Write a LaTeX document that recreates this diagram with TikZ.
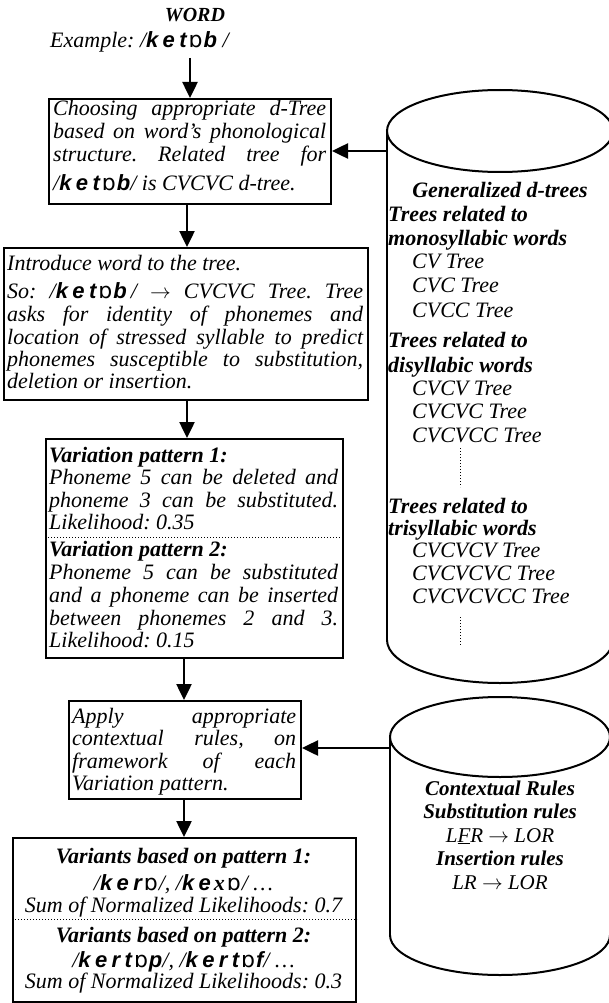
\documentclass[tikz,border=0pt]{standalone}
\usepackage{fontspec}
\setmainfont{Liberation Serif}
\newfontfamily\ipaf{Liberation Sans}[LetterSpace=20]
\newfontfamily\ipao{DejaVu Sans}
\usetikzlibrary{arrows.meta}
\newcommand\ipa[1]{{\ipaf\bfseries\itshape #1}}
\newcommand\oo{{\ipao\mdseries\upshape\kern2pt ɒ\kern1pt}}
\newcommand\xx{{\kern3pt\bfseries\itshape x}}
\newcommand\JL[5]{\node[lt] (#1) at (#2,#3) {\makebox[#4pt][s]{#5}};}
\newcommand\PL[4]{\node[lt] (#1) at (#2,#3) {#4};}
\newcommand\CL[4]{\node[ct] (#1) at (#2,#3) {#4};}
\frenchspacing
\begin{document}
\begin{tikzpicture}[x=1pt,y=-1pt,
  txt/.style={inner sep=0pt, font=\fontsize{22pt}{22.5pt}\selectfont\itshape\frenchspacing},
  lt/.style={txt, anchor=base west},
  ct/.style={txt, anchor=base},
  small/.style={font=\fontsize{21pt}{22pt}\selectfont\itshape},
  box/.style={draw, line width=2pt, inner sep=0pt, anchor=north west},
  arr/.style={line width=2.5pt, -{Triangle[length=16pt,width=15pt]}},
  cyl/.style={line width=2pt},
  sep/.style={dotted, line width=1pt}]
\useasboundingbox (0,0) rectangle (608,1003);

% title
\node[ct, font=\fontsize{20pt}{22pt}\selectfont\bfseries\itshape] (word) at (195,22) {WORD};
\PL{ex}{50}{48}{Example: /\ipa{ket}\oo\ipa{b} /}

% boxes
\node[box, minimum width=282pt, minimum height=105pt] (b1) at (48,98) {};
\node[box, minimum width=364pt, minimum height=152pt] (b2) at (3,247) {};
\node[box, minimum width=297pt, minimum height=219pt] (b3) at (45,438) {};
\node[box, minimum width=232pt, minimum height=98pt] (b4) at (68,700) {};
\node[box, minimum width=343pt, minimum height=164pt] (b5) at (12,837) {};

% box 1
\JL{b1a}{53}{116}{273}{Choosing appropriate d-Tree}
\JL{b1b}{53}{139}{273}{based on word's phonological}
\JL{b1c}{53}{162}{273}{structure. Related tree for}
\PL{b1d}{53}{190}{/\ipa{ket}\oo\ipa{b}/ is CVCVC d-tree.}

% box 2
\PL{b2a}{7}{270}{Introduce word to the tree.}
\JL{b2b}{7}{298}{356}{So: /\ipa{ket}\oo\ipa{b}\kern4pt/ $\rightarrow$ CVCVC Tree. Tree}
\JL{b2c}{7}{321}{356}{asks for identity of phonemes and}
\JL{b2d}{7}{344}{356}{location of stressed syllable to predict}
\JL{b2e}{7}{366}{356}{phonemes susceptible to substitution,}
\PL{b2f}{7}{388}{deletion or insertion.}

% box 3
\PL{b3a}{49}{462}{\textbf{Variation pattern 1:}}
\JL{b3b}{49}{484}{289}{Phoneme 5 can be deleted and}
\JL{b3c}{49}{507}{289}{phoneme 3 can be substituted.}
\PL{b3d}{49}{529}{Likelihood: 0.35}
\PL{b3e}{49}{556}{\textbf{Variation pattern 2:}}
\JL{b3f}{49}{579}{289}{Phoneme 5 can be substituted}
\JL{b3g}{49}{602}{289}{and a phoneme can be inserted}
\JL{b3h}{49}{625}{289}{between phonemes 2 and 3.}
\PL{b3i}{49}{647}{Likelihood: 0.15}
\draw[sep] (b3.west |- 0,537) -- (b3.east |- 0,537);

% box 4
\JL{b4a}{72}{723}{224}{Apply appropriate}
\JL{b4b}{72}{745}{224}{contextual rules, on}
\JL{b4c}{72}{768}{224}{framework of each}
\PL{b4d}{72}{790}{Variation pattern.}

% box 5
\CL{b5a}{183.5}{863}{\textbf{Variants based on pattern 1:}}
\CL{b5b}{183.5}{890}{/\ipa{ker}\oo/, /\ipa{ke}\xx\oo/ \ldots}
\CL{b5c}{183.5}{912}{Sum of Normalized Likelihoods: 0.7}
\CL{b5d}{183.5}{942}{\textbf{Variants based on pattern 2:}}
\CL{b5e}{183.5}{967}{/\ipa{kert}\oo\ipa{p}/, /\ipa{kert}\oo\ipa{f}/ \ldots}
\CL{b5f}{183.5}{988}{Sum of Normalized Likelihoods: 0.3}
\draw[sep] (b5.west |- 0,919) -- (b5.east |- 0,919);

% cylinder 1
\draw[cyl] (500,131) ellipse [x radius=113pt, y radius=41pt];
\draw[cyl] (387,131) -- (387,640);
\draw[cyl] (613,131) -- (613,640);
\begin{scope}
  \clip (380,640) rectangle (620,700);
  \draw[cyl] (500,640) ellipse [x radius=113pt, y radius=43pt];
\end{scope}
\CL{c1a}{500}{197}{\textbf{Generalized d-trees}}
\PL{c1b}{388}{221}{\textbf{Trees related to}}
\PL{c1c}{388}{245}{\textbf{monosyllabic words}}
\PL{c1d}{412}{268}{CV Tree}
\PL{c1e}{412}{292}{CVC Tree}
\PL{c1f}{412}{317}{CVCC Tree}
\PL{c1g}{388}{347}{\textbf{Trees related to}}
\PL{c1h}{388}{372}{\textbf{disyllabic words}}
\PL{c1i}{412}{395}{CVCV Tree}
\PL{c1j}{412}{418}{CVCVC Tree}
\PL{c1k}{412}{442}{CVCVCC Tree}
\draw[sep] (460,448) -- (460,487);
\PL{c1l}{388}{513}{\textbf{Trees related to}}
\PL{c1m}{388}{535}{\textbf{trisyllabic words}}
\PL{c1n}{412}{557}{CVCVCV Tree}
\PL{c1o}{412}{580}{CVCVCVC Tree}
\PL{c1p}{412}{603}{CVCVCVCC Tree}
\draw[sep] (460,617) -- (460,645);

% cylinder 2
\draw[cyl] (500,737) ellipse [x radius=110pt, y radius=40pt];
\draw[cyl] (390,737) -- (390,935);
\draw[cyl] (610,737) -- (610,935);
\begin{scope}
  \clip (380,935) rectangle (620,1000);
  \draw[cyl] (500,935) ellipse [x radius=110pt, y radius=40pt];
\end{scope}
\node[ct, small] (c2a) at (500,795) {\textbf{Contextual Rules}};
\node[ct, small] (c2b) at (500,818.5) {\textbf{Substitution rules}};
\node[ct, small] (c2c) at (500,842) {L\underline{F}R $\rightarrow$ LOR};
\node[ct, small] (c2d) at (500,865.5) {\textbf{Insertion rules}};
\node[ct, small] (c2e) at (500,889) {LR $\rightarrow$ LOR};

% connectors
\coordinate (ax0) at (190,0);
\coordinate (ax) at (187,0);
\coordinate (ay) at (184,0);
\coordinate (c1) at (387,151);
\coordinate (c2) at (390,748);
\draw[arr, shorten <=5pt] (ex.south -| ax0) -- (b1.north -| ax0);
\draw[arr] (b1.south -| ax) -- (b2.north -| ax);
\draw[arr] (b2.south -| ax) -- (b3.north -| ax);
\draw[arr] (b3.south -| ay) -- (b4.north -| ay);
\draw[arr] (b4.south -| ay) -- (b5.north -| ay);
\draw[arr] (c1) -- (c1 -| b1.east);
\draw[arr] (c2) -- (c2 -| b4.east);
\end{tikzpicture}
\end{document}
